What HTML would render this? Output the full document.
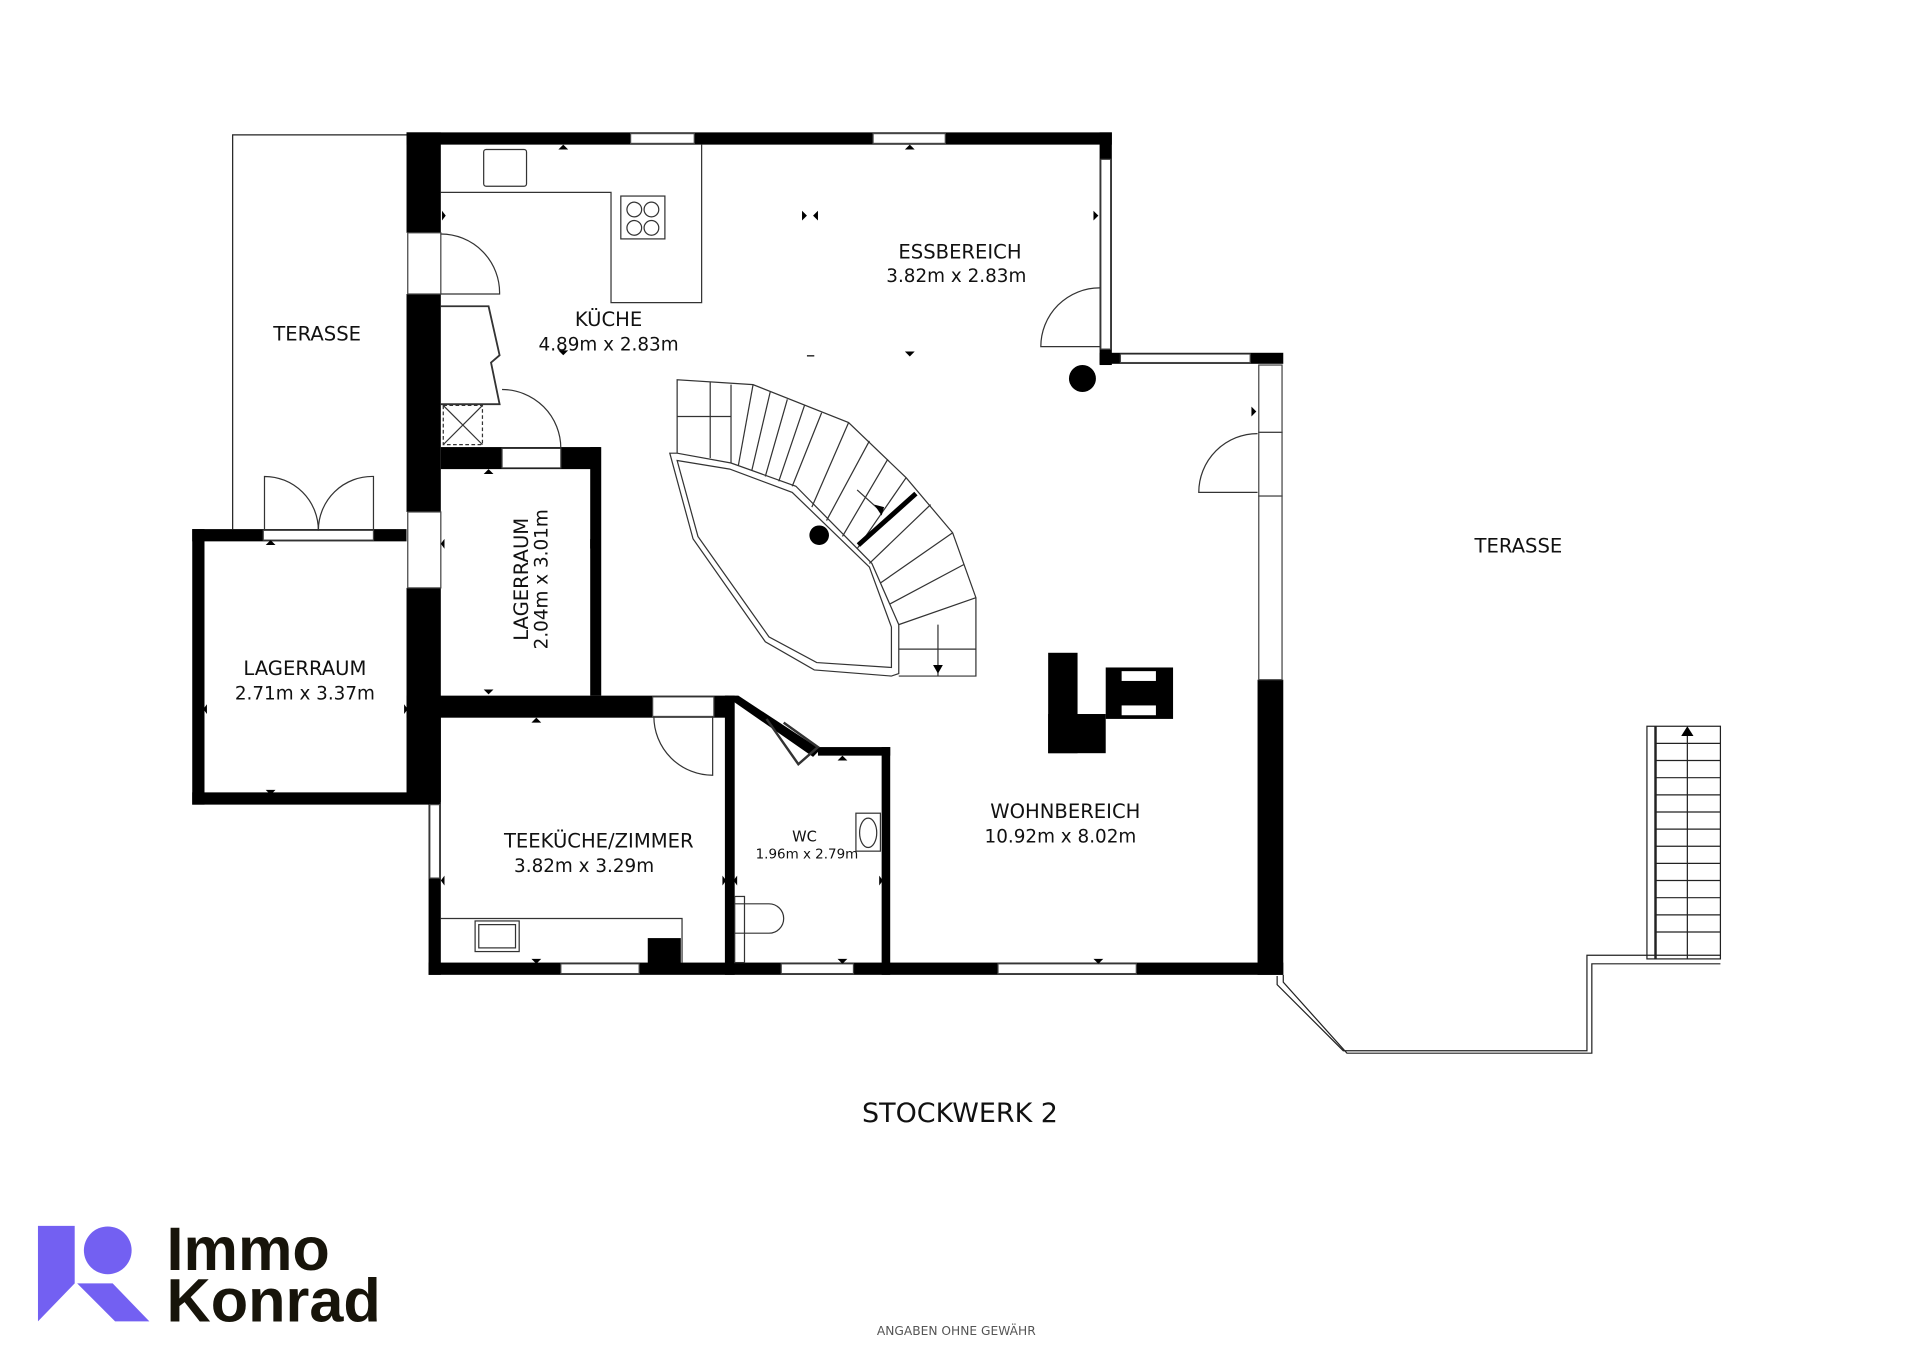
<!DOCTYPE html>
<html><head><meta charset="utf-8"><style>
html,body{margin:0;padding:0;background:#fff;width:1920px;height:1357px;overflow:hidden}
svg{display:block}
text{font-family:"DejaVu Sans","Liberation Sans",sans-serif;fill:#111}
</style></head><body>
<svg width="1920" height="1357" viewBox="0 0 1568 1108" xmlns="http://www.w3.org/2000/svg">
<rect width="1568" height="1108" fill="#fff"/>
<g fill="none" stroke="#222" stroke-width="1">
<polyline points="332,110 190,110 190,432"/>
<polyline points="1048,796 1048,802 1100,860 1300,860 1300,787 1405,787"/>
<polyline points="1043,797 1043,804 1097,858 1296,858 1296,780 1405,780"/>
<rect x="1345" y="593" width="60" height="190"/>
<line x1="1352" y1="593" x2="1352" y2="783" stroke-width="2"/>
<line x1="1378" y1="600" x2="1378" y2="783"/>
</g>
<g stroke="#222" stroke-width="1">
<line x1="1352" y1="607" x2="1405" y2="607"/><line x1="1352" y1="621" x2="1405" y2="621"/><line x1="1352" y1="635" x2="1405" y2="635"/><line x1="1352" y1="649" x2="1405" y2="649"/><line x1="1352" y1="663" x2="1405" y2="663"/><line x1="1352" y1="677" x2="1405" y2="677"/><line x1="1352" y1="691" x2="1405" y2="691"/><line x1="1352" y1="705" x2="1405" y2="705"/><line x1="1352" y1="719" x2="1405" y2="719"/><line x1="1352" y1="733" x2="1405" y2="733"/><line x1="1352" y1="747" x2="1405" y2="747"/><line x1="1352" y1="761" x2="1405" y2="761"/>
</g>
<polygon points="1373,601 1383,601 1378,593" fill="#000"/>

<g fill="#000">
<rect x="332" y="108" width="576" height="10"/>
<rect x="332" y="108" width="28" height="82"/>
<rect x="332" y="240" width="28" height="178"/>
<rect x="332" y="480" width="28" height="175"/>
<rect x="898" y="108" width="10" height="190"/>
<rect x="898" y="288" width="150" height="9"/>
<rect x="1027" y="555" width="21" height="241"/>
<rect x="350" y="786" width="698" height="10"/>
<rect x="350" y="568" width="10" height="228"/>
<rect x="157" y="432" width="175" height="10"/>
<rect x="157" y="432" width="10" height="225"/>
<rect x="157" y="647" width="195" height="10"/>
<rect x="332" y="568" width="263" height="18"/>
<rect x="360" y="365" width="130" height="18"/>
<rect x="482" y="365" width="9" height="203"/>
<rect x="592" y="568" width="8" height="228"/>
<rect x="720" y="610" width="7" height="186"/>
<rect x="668" y="610" width="59" height="7"/>
<polygon points="592,568 603,568 670,612 664,618"/>
<rect x="529" y="766" width="27" height="22"/>
<rect x="856" y="533" width="24" height="82"/>
<rect x="856" y="583" width="47" height="32"/>
<rect x="903" y="545" width="55" height="42"/>
<circle cx="884" cy="309" r="11"/>
<circle cx="669" cy="437" r="8"/>
</g>
<g fill="#fff">
<rect x="916" y="548" width="28" height="8"/><rect x="916" y="576" width="28" height="8"/>
</g>
<g fill="#fff" stroke="#444" stroke-width="1">
<rect x="515" y="109" width="52" height="8"/>
<rect x="713" y="109" width="59" height="8"/>
<rect x="899" y="130" width="8" height="155"/>
<rect x="915" y="289" width="106" height="7"/>
<rect x="1028" y="298" width="19" height="55"/>
<rect x="1028" y="353" width="19" height="52"/>
<rect x="1028" y="405" width="19" height="150"/>
<rect x="458" y="787" width="64" height="8"/>
<rect x="638" y="787" width="59" height="8"/>
<rect x="815" y="787" width="113" height="8"/>
<rect x="351" y="657" width="8" height="60"/>
<rect x="333" y="190" width="27" height="50"/>
<rect x="333" y="418" width="27" height="62"/>
<rect x="410" y="366" width="48" height="16"/>
<rect x="533" y="569" width="50" height="16"/>
<rect x="215" y="433" width="90" height="8"/>
</g>
<g fill="none" stroke="#333" stroke-width="1">
<polyline points="360,157 499,157 499,247 573,247 573,118"/>
<rect x="395" y="122" width="35" height="30" rx="2"/>
<rect x="507" y="160" width="36" height="35"/>
<circle cx="518" cy="171" r="6"/><circle cx="532" cy="171" r="6"/><circle cx="518" cy="186" r="6"/><circle cx="532" cy="186" r="6"/>
<polyline points="360,250 399,250 408,290 401,296 408,330 360,330" stroke-width="1.5"/>
<rect x="362" y="331" width="32" height="32" stroke-dasharray="3,2"/>
<line x1="362" y1="331" x2="394" y2="363"/><line x1="394" y1="331" x2="362" y2="363"/>
<path d="M360,191 A48,48 0 0 1 408,240 L360,240"/>
<path d="M410,318 A48,48 0 0 1 458,366 L410,366"/>
<path d="M898,235 A48,48 0 0 0 850,283 L898,283"/>
<path d="M1027,354 A48,48 0 0 0 979,402 L1027,402"/>
<path d="M534,585 A48,48 0 0 0 582,633 L582,585"/>
<path d="M216,433 L216,389 A44,44 0 0 1 260,433"/>
<path d="M305,433 L305,389 A44,44 0 0 0 260,433"/>
<polyline points="626,587 652,624 668,610 640,590" stroke-width="2"/>
<polyline points="360,750 557,750 557,786"/>
<rect x="388" y="752" width="36" height="25"/><rect x="391" y="755" width="30" height="19"/>
<rect x="699" y="664" width="20" height="31"/><ellipse cx="709" cy="680" rx="7" ry="12"/>
<rect x="600" y="732" width="8" height="54"/>
<path d="M600,738 L628,738 A12,12 0 0 1 628,762 L600,762"/>
<polygon points="547,370 553,370 597,378 650,397 712,460 734,510 734,550 728,552 665,547 625,524 566,440"/>
<polygon points="553,376 596,383 647,402 710,463 728,512 728,545 667,541 628,520 570,438"/>
<polyline points="553,370 553,310 615,314 693,345 740,390 778,435 797,488 797,552 734,552"/>
<line x1="553" y1="340" x2="597" y2="340"/><line x1="597" y1="314" x2="597" y2="378"/>
<line x1="580" y1="312" x2="580" y2="374"/><line x1="615" y1="314" x2="603" y2="380"/>
<line x1="629" y1="320" x2="614" y2="384"/><line x1="643" y1="326" x2="625" y2="389"/>
<line x1="657" y1="331" x2="636" y2="393"/><line x1="671" y1="337" x2="647" y2="397"/>
<line x1="693" y1="345" x2="663" y2="414"/><line x1="710" y1="360" x2="675" y2="425"/>
<line x1="725" y1="375" x2="688" y2="438"/><line x1="740" y1="390" x2="700" y2="448"/>
<line x1="760" y1="412" x2="710" y2="460"/><line x1="778" y1="435" x2="719" y2="476"/>
<line x1="787" y1="461" x2="727" y2="493"/><line x1="797" y1="488" x2="734" y2="510"/>
<line x1="734" y1="530" x2="797" y2="530"/><line x1="766" y1="510" x2="766" y2="552"/>
<line x1="701" y1="445" x2="748" y2="403" stroke="#000" stroke-width="4"/>
<line x1="700" y1="400" x2="720" y2="418"/>
</g>
<polygon points="762,543 770,543 766,550" fill="#000"/>
<polygon points="714,412 722,414 720,421" fill="#000"/>
<g fill="#000">
<polygon points="456,122 464,122 460,118"/><polygon points="739,122 747,122 743,118"/>
<polygon points="739,287 747,287 743,291"/><polygon points="456,286 464,286 460,290"/>
<polygon points="655,172 655,180 659,176"/><polygon points="668,172 668,180 664,176"/>
<polygon points="893,172 893,180 897,176"/><polygon points="361,172 361,180 364,176"/>
<polygon points="1022,332 1022,340 1026,336"/>
<polygon points="395,387 403,387 399,383"/><polygon points="395,563 403,563 399,567"/>
<polygon points="363,440 363,448 360,444"/><polygon points="482,440 482,448 485,444"/>
<polygon points="217,445 225,445 221,441"/><polygon points="217,645 225,645 221,649"/>
<polygon points="169,575 169,583 166,579"/><polygon points="330,575 330,583 333,579"/>
<polygon points="434,590 442,590 438,586"/><polygon points="434,783 442,783 438,787"/>
<polygon points="363,715 363,723 360,719"/><polygon points="590,715 590,723 593,719"/>
<polygon points="602,715 602,723 599,719"/><polygon points="718,715 718,723 721,719"/>
<polygon points="684,621 692,621 688,617"/><polygon points="684,783 692,783 688,787"/>
<polygon points="893,783 901,783 897,787"/>
<rect x="659" y="290" width="6" height="1"/>
</g>
<text x="259" y="278" font-size="16" text-anchor="middle">TERASSE</text>
<text x="497" y="266" font-size="16" text-anchor="middle">KÜCHE</text>
<text x="497" y="286" font-size="15" text-anchor="middle">4.89m x 2.83m</text>
<text x="784" y="211" font-size="16" text-anchor="middle">ESSBEREICH</text>
<text x="781" y="230" font-size="15" text-anchor="middle">3.82m x 2.83m</text>
<text x="249" y="551" font-size="16" text-anchor="middle">LAGERRAUM</text>
<text x="249" y="571" font-size="15" text-anchor="middle">2.71m x 3.37m</text>
<g transform="translate(431,473) rotate(-90)"><text x="0" y="0" font-size="16" text-anchor="middle">LAGERRAUM</text><text x="0" y="16" font-size="15" text-anchor="middle">2.04m x 3.01m</text></g>
<text x="489" y="692" font-size="16" text-anchor="middle">TEEKÜCHE/ZIMMER</text>
<text x="477" y="712" font-size="15" text-anchor="middle">3.82m x 3.29m</text>
<text x="657" y="687" font-size="12" text-anchor="middle">WC</text>
<text x="659" y="701" font-size="11" text-anchor="middle">1.96m x 2.79m</text>
<text x="870" y="668" font-size="16" text-anchor="middle">WOHNBEREICH</text>
<text x="866" y="688" font-size="15" text-anchor="middle">10.92m x 8.02m</text>
<text x="1240" y="451" font-size="16" text-anchor="middle">TERASSE</text>
<text x="784" y="916" font-size="22" text-anchor="middle">STOCKWERK 2</text>
<text x="781" y="1090" font-size="10" text-anchor="middle" style="fill:#555">ANGABEN OHNE GEWÄHR</text>
<g fill="#7360f2">
<polygon points="31,1001 61,1001 61,1048 31,1079"/>
<polygon points="63,1048 92,1048 122,1079 94,1079"/>
<circle cx="88" cy="1021" r="19.5"/>
</g>
<text x="136" y="1037" font-size="50" font-weight="bold" style="fill:#17140a;font-family:'Liberation Sans',sans-serif">Immo</text>
<text x="136" y="1079" font-size="50" font-weight="bold" style="fill:#17140a;font-family:'Liberation Sans',sans-serif">Konrad</text>
</svg>
</body></html>
